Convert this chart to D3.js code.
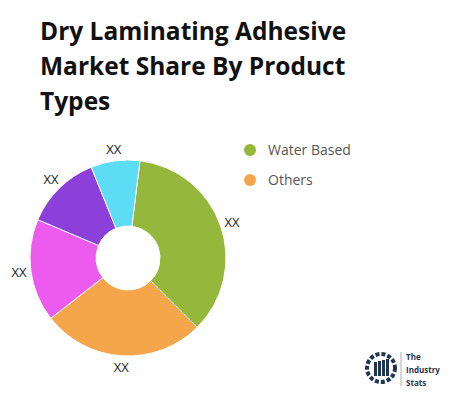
<!DOCTYPE html>
<html><head><meta charset="utf-8">
<script src="https://cdn.jsdelivr.net/npm/d3@7"></script>
<style>body{margin:0;background:#fff;font-family:"Open Sans",sans-serif}</style>
</head><body><svg id="c" width="450" height="400"></svg>
<script>
var categories = ["Water Based", "Others", "Type C", "Type D", "Type E"];
var values = [128, 97, 61, 45, 29];
var labels = ["XX", "XX", "XX", "XX", "XX"];
var colors = ["#94b73c", "#f5a54a", "#ec5bee", "#8c3fd9", "#5cdcf5"];
var legendItems = ["Water Based", "Others"];
var titleLines = ["Dry Laminating Adhesive", "Market Share By Product", "Types"];

var svg = d3.select("#c");
// title
svg.selectAll("text.t").data(titleLines).enter().append("text")
  .attr("x", 40).attr("y", function(d, i) { return 40 + i * 35; })
  .style("font-size", "24.5px").style("font-weight", "bold").style("fill", "#111")
  .text(function(d) { return d; });

var cx = 128, cy = 258, rOut = 98, rIn = 32;
var pie = d3.pie().sort(null).startAngle(7 * Math.PI / 180).endAngle(367 * Math.PI / 180);
var arc = d3.arc().innerRadius(rIn).outerRadius(rOut);
var lab = d3.arc().innerRadius(rOut + 12).outerRadius(rOut + 12);
var g = svg.append("g").attr("transform", "translate(" + cx + "," + cy + ")");
var arcs = pie(values);
g.selectAll("path").data(arcs).enter().append("path")
  .attr("d", arc).style("fill", function(d, i) { return colors[i]; })
  .style("stroke", "#fff").style("stroke-width", 1);
g.selectAll("text").data(arcs).enter().append("text")
  .attr("transform", function(d) { return "translate(" + lab.centroid(d) + ")"; })
  .attr("text-anchor", "middle").attr("dy", "0.35em")
  .style("font-size", "13px").style("fill", "#222")
  .text(function(d, i) { return labels[i]; });

// legend
var lg = svg.selectAll("g.l").data(legendItems).enter().append("g")
  .attr("transform", function(d, i) { return "translate(250," + (150 + i * 30) + ")"; });
lg.append("circle").attr("r", 6).style("fill", function(d, i) { return colors[i]; });
lg.append("text").attr("x", 18).attr("dy", "0.35em").style("font-size", "14px").style("fill", "#555")
  .text(function(d) { return d; });

// logo
var logo = svg.append("g").attr("transform", "translate(381,368)");
logo.append("circle").attr("r", 14).style("fill", "none").style("stroke", "#1f3550").style("stroke-width", 4).style("stroke-dasharray", "4 2");
[-7, -3, 1, 5].forEach(function(x, i) {
  logo.append("rect").attr("x", x).attr("y", -6 + i * -1).attr("width", 3).attr("height", 14 + i).style("fill", "#1f3550");
});
logo.append("line").attr("x1", 20).attr("x2", 20).attr("y1", -16).attr("y2", 18).style("stroke", "#999").style("stroke-width", 0.8);
["The", "Industry", "Stats"].forEach(function(t, i) {
  logo.append("text").attr("x", 25).attr("y", -8 + i * 13).style("font-size", "8px").style("font-weight", "bold").style("fill", "#1f3550").text(t);
});
</script></body></html>
